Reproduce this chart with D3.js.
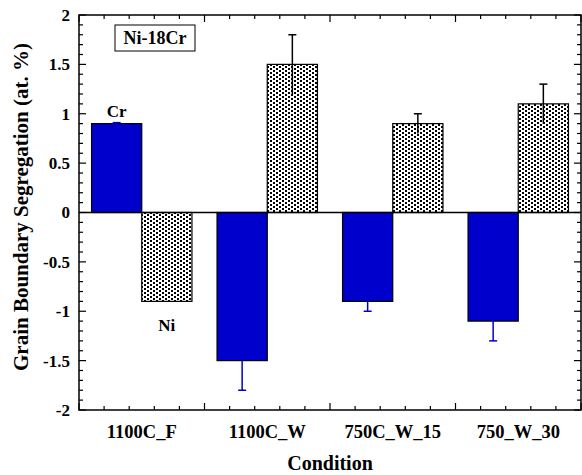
<!DOCTYPE html>
<html>
<head>
<meta charset="utf-8">
<script src="https://cdn.jsdelivr.net/npm/d3@7"></script>
<style>
  body { margin: 0; background: #fff; }
  text { font-family: "Liberation Serif", "Times New Roman", serif; font-weight: bold; fill: #000; }
</style>
</head>
<body>
<script>
// categories and series values (at. %)
var conditions = ["1100C_F", "1100C_W", "750C_W_15", "750_W_30"];
var crValues = [0.9, -1.5, -0.9, -1.1];
var crErrors = [0.01, 0.3, 0.1, 0.2];
var niValues = [-0.9, 1.5, 0.9, 1.1];
var niErrors = [0, 0.3, 0.1, 0.2];
var yTicks = [-2, -1.5, -1, -0.5, 0, 0.5, 1, 1.5, 2];

var width = 582, height = 475;
var margin = { left: 79, right: 1, top: 15, bottom: 65 };

var svg = d3.select("body").append("svg")
    .attr("width", width)
    .attr("height", height);

// stipple pattern for the Ni bars
var pat = svg.append("defs").append("pattern")
    .attr("id", "dots")
    .attr("patternUnits", "userSpaceOnUse")
    .attr("width", 6)
    .attr("height", 4);
pat.append("rect").attr("width", 6).attr("height", 4).attr("fill", "#fff");
pat.append("rect").attr("x", 0).attr("y", 0).attr("width", 2).attr("height", 2).attr("fill", "#000");
pat.append("rect").attr("x", 3).attr("y", 2).attr("width", 2).attr("height", 2).attr("fill", "#000");

var x = d3.scaleBand()
    .domain(conditions)
    .range([margin.left, width - margin.right]);

var y = d3.scaleLinear()
    .domain([-2, 2])
    .range([height - margin.bottom, margin.top]);

var barW = x.bandwidth() * 0.4;

// ----------------------------------------------------------- //
// bars
var g = svg.append("g");

function drawSeries(values, errors, offset, fill, errColor) {
  g.selectAll(null)
    .data(values)
    .enter().append("rect")
    .attr("x", (d, i) => x.bandwidth() / 2 + x(conditions[i]) + offset)
    .attr("y", d => y(Math.max(0, d)))
    .attr("width", barW)
    .attr("height", d => Math.abs(y(d) - y(0)))
    .attr("fill", fill)
    .attr("stroke", "#000")
    .attr("stroke-width", 1.2);

  // error bars: line through the bar end, cap only on the outer end
  values.forEach(function(d, i) {
    var e = errors[i];
    if (e <= 0) return;
    var cx = x(conditions[i]) + x.bandwidth() / 2 + offset + barW / 2;
    var outer = d >= 0 ? d + e : d - e;
    var inner = d >= 0 ? d - e : d + e;
    g.append("line")
      .attr("x1", cx).attr("x2", cx)
      .attr("y1", y(inner)).attr("y2", y(outer))
      .attr("stroke", errColor).attr("stroke-width", 1.5);
    g.append("line")
      .attr("x1", cx - 4).attr("x2", cx + 4)
      .attr("y1", y(outer)).attr("y2", y(outer))
      .attr("stroke", errColor).attr("stroke-width", 1.5);
  });
}

drawSeries(crValues, crErrors, -barW, "#0000cc", "#0000cc");
drawSeries(niValues, niErrors, 0, "url(#dots)", "#000");

// zero line
svg.append("line")
  .attr("x1", margin.left).attr("x2", width - margin.right)
  .attr("y1", y(0)).attr("y2", y(0))
  .attr("stroke", "#000").attr("stroke-width", 1.5);

// ----------------------------------------------------------- //
// axes with inward ticks
var x0 = margin.left, x1 = width - margin.right;
var y0 = height - margin.bottom, y1 = margin.top;

var yMinor = d3.range(-20, 21).map(d => d / 10);
var xStep = x.step();
var xMinor = d3.range(0, conditions.length * 5 + 1).map(k => x0 + k * xStep / 5);

var ax = svg.append("g").attr("stroke", "#000");

yMinor.forEach(function(v) {
  var major = Math.abs(v * 2 - Math.round(v * 2)) < 1e-6;
  var len = major ? 7 : 4;
  ax.append("line").attr("x1", x0).attr("x2", x0 + len)
    .attr("y1", y(v)).attr("y2", y(v)).attr("stroke-width", 1.2);
  ax.append("line").attr("x1", x1).attr("x2", x1 - len)
    .attr("y1", y(v)).attr("y2", y(v)).attr("stroke-width", 1.2);
});

xMinor.forEach(function(px, k) {
  var len = k % 5 === 0 ? 7 : 4;
  ax.append("line").attr("x1", px).attr("x2", px)
    .attr("y1", y0).attr("y2", y0 - len).attr("stroke-width", 1.2);
  ax.append("line").attr("x1", px).attr("x2", px)
    .attr("y1", y1).attr("y2", y1 + len).attr("stroke-width", 1.2);
});

svg.append("rect")
  .attr("x", x0).attr("y", y1)
  .attr("width", x1 - x0).attr("height", y0 - y1)
  .attr("fill", "none").attr("stroke", "#000").attr("stroke-width", 1.5);

// tick labels
svg.selectAll(null)
  .data(yTicks)
  .enter().append("text")
  .attr("x", x0 - 9)
  .attr("y", d => y(d))
  .attr("dy", "0.35em")
  .attr("text-anchor", "end")
  .attr("font-size", 17)
  .text(d => d3.format("")(d).replace("−", "-"));

svg.selectAll(null)
  .data(conditions)
  .enter().append("text")
  .attr("x", d => x(d) + x.bandwidth() / 2)
  .attr("y", y0 + 28)
  .attr("text-anchor", "middle")
  .attr("font-size", 18.5)
  .text(d => d);

// axis titles
svg.append("text")
  .attr("x", (x0 + x1) / 2)
  .attr("y", height - 5)
  .attr("text-anchor", "middle")
  .attr("font-size", 20)
  .text("Condition");

svg.append("text")
  .attr("transform", "translate(28,207) rotate(-90)")
  .attr("text-anchor", "middle")
  .attr("font-size", 21)
  .text("Grain Boundary Segregation (at. %)");

// series labels
svg.append("text")
  .attr("x", x(conditions[0]) + x.bandwidth() / 2 - barW / 2)
  .attr("y", y(crValues[0]) - 7)
  .attr("text-anchor", "middle")
  .attr("font-size", 17)
  .text("Cr");

svg.append("text")
  .attr("x", x(conditions[0]) + x.bandwidth() / 2 + barW / 2)
  .attr("y", y(niValues[0]) + 30)
  .attr("text-anchor", "middle")
  .attr("font-size", 17)
  .text("Ni");

// alloy box
svg.append("rect")
  .attr("x", 115).attr("y", 25)
  .attr("width", 80).attr("height", 26)
  .attr("fill", "#fff").attr("stroke", "#000").attr("stroke-width", 1);
svg.append("text")
  .attr("x", 155).attr("y", 44)
  .attr("text-anchor", "middle")
  .attr("font-size", 18)
  .text("Ni-18Cr");
</script>
</body>
</html>
